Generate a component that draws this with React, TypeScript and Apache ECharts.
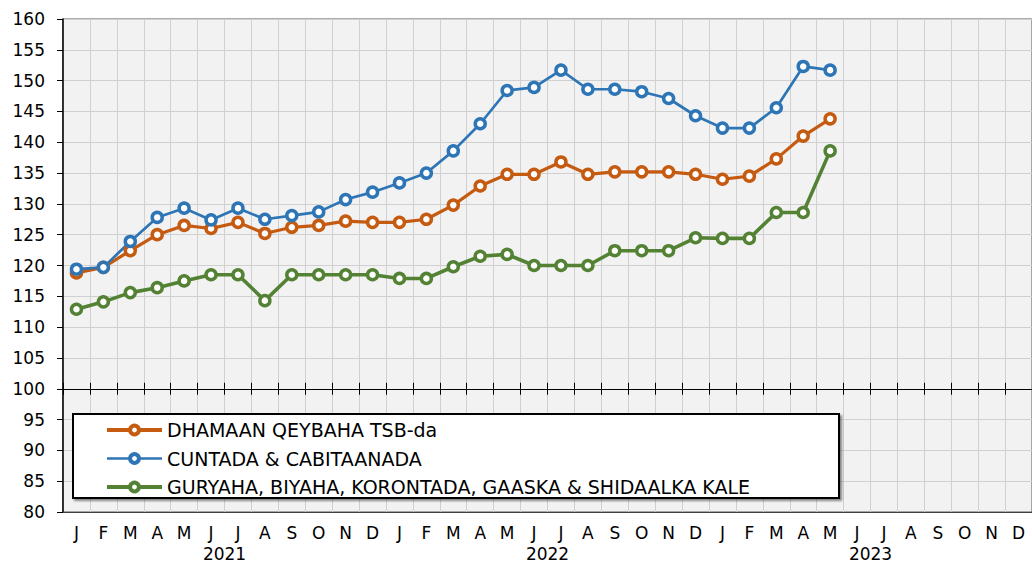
import React, { useEffect, useRef } from "react";
import * as echarts from "echarts";

const years = ["2021", "2022", "2023"];
const monthLetters = ["J", "F", "M", "A", "M", "J", "J", "A", "S", "O", "N", "D"];
const categories: string[] = [];
years.forEach((y) => monthLetters.forEach((m, i) => categories.push(`${y}-${i}-${m}`)));

const seriesNames = [
  "DHAMAAN QEYBAHA TSB-da",
  "CUNTADA & CABITAANADA",
  "GURYAHA, BIYAHA, KORONTADA, GAASKA & SHIDAALKA KALE",
];

const dhamaan = [
  118.8, 119.7, 122.4, 125.0, 126.5, 126.0, 127.0, 125.2, 126.2, 126.5, 127.2, 127.0,
  127.0, 127.5, 129.8, 132.9, 134.8, 134.8, 136.8, 134.8, 135.2, 135.2, 135.2, 134.8,
  134.0, 134.5, 137.3, 141.0, 143.8,
];
const cuntada = [
  119.4, 119.7, 123.9, 127.8, 129.3, 127.4, 129.3, 127.5, 128.1, 128.7, 130.7, 131.9,
  133.4, 135.0, 138.6, 143.0, 148.4, 148.9, 151.7, 148.6, 148.6, 148.2, 147.1, 144.3,
  142.3, 142.3, 145.6, 152.3, 151.7,
];
const guryaha = [
  112.9, 114.1, 115.6, 116.4, 117.5, 118.5, 118.5, 114.3, 118.5, 118.5, 118.5, 118.5,
  117.9, 117.9, 119.8, 121.5, 121.8, 120.0, 120.0, 120.0, 122.4, 122.4, 122.4, 124.5,
  124.4, 124.4, 128.6, 128.6, 138.6,
];

const colors = ["#C55A11", "#2E75B6", "#548235"];
const lineWidths = [3.2, 2.7, 3.6];
const legendLineWidths = [4, 2.5, 4];
const FONT = "DejaVu Sans";

export default function App() {
  const ref = useRef<HTMLDivElement>(null);
  useEffect(() => {
    if (!ref.current) return;
    const chart = echarts.init(ref.current, undefined, { renderer: "svg" });
    const gridTop = 19;
    const gridBottom = 50;
    const plotH = 562 - gridTop - gridBottom;
    const y100 = gridTop + ((160 - 100) / 80) * plotH;
    const offset100 = -(562 - gridBottom - y100);

    const mkSeries = (i: number, data: number[]) => ({
      name: seriesNames[i],
      type: "line",
      data,
      symbol: "circle",
      symbolSize: 10,
      lineStyle: { color: colors[i], width: lineWidths[i] },
      itemStyle: { color: "#ffffff", borderColor: colors[i], borderWidth: 3.5 },
      emphasis: { disabled: true },
      z: 5,
    });

    chart.setOption({
      animation: false,
      grid: {
        left: 63,
        right: 0,
        top: gridTop,
        bottom: gridBottom,
        show: true,
        backgroundColor: "#f2f2f2",
        borderColor: "#595959",
        borderWidth: 1,
      },
      xAxis: [
        {
          type: "category",
          data: categories,
          position: "bottom",
          boundaryGap: true,
          axisLine: { show: true, lineStyle: { color: "#404040", width: 1 } },
          axisTick: { show: false },
          axisLabel: {
            interval: 0,
            margin: 12,
            color: "#000",
            fontFamily: FONT,
            fontSize: 17,
            formatter: (v: string) => v.split("-")[2],
          },
          splitLine: { show: true, interval: 0, lineStyle: { color: "#d0d0d0", width: 1 } },
        },
        {
          type: "category",
          data: categories,
          position: "bottom",
          offset: offset100,
          boundaryGap: true,
          axisLine: { show: true, lineStyle: { color: "#000", width: 1 } },
          axisTick: { show: true, interval: 0, length: 6, lineStyle: { color: "#000" } },
          axisLabel: { show: false },
          splitLine: { show: false },
          z: 6,
        },
        {
          type: "category",
          data: categories,
          position: "bottom",
          offset: offset100,
          boundaryGap: true,
          axisLine: { show: false },
          axisTick: { show: true, inside: true, interval: 0, length: 6, lineStyle: { color: "#000" } },
          axisLabel: { show: false },
          splitLine: { show: false },
          z: 6,
        },
        {
          type: "category",
          data: years,
          position: "bottom",
          offset: 21,
          boundaryGap: true,
          axisLine: { show: false },
          axisTick: { show: false },
          axisLabel: { interval: 0, margin: 12, color: "#000", fontFamily: FONT, fontSize: 17 },
          splitLine: { show: false },
        },
      ],
      yAxis: {
        type: "value",
        min: 80,
        max: 160,
        interval: 5,
        axisLine: { show: true, lineStyle: { color: "#000", width: 1.5 } },
        axisTick: { show: true, length: 6, lineStyle: { color: "#000" } },
        axisLabel: { margin: 18, color: "#000", fontFamily: FONT, fontSize: 17 },
        splitLine: { show: true, lineStyle: { color: "#d0d0d0", width: 1 } },
      },
      legend: {
        orient: "vertical",
        left: 105,
        top: 420,
        padding: 0,
        itemGap: 8.5,
        itemWidth: 55,
        itemHeight: 11,
        selectedMode: false,
        textStyle: { color: "#000", fontFamily: FONT, fontSize: 19, lineHeight: 20 },
        itemStyle: { borderWidth: 4 },
        data: seriesNames.map((name, i) => ({
          name,
          lineStyle: { width: legendLineWidths[i], color: colors[i] },
          itemStyle: { color: "#ffffff", borderColor: colors[i], borderWidth: 4 },
        })),
        z: 10,
      },
      graphic: [
        {
          type: "rect",
          z: 8,
          shape: { x: 73, y: 414, width: 766, height: 84 },
          style: {
            fill: "#ffffff",
            stroke: "#000000",
            lineWidth: 2,
            shadowColor: "rgba(0,0,0,0.45)",
            shadowOffsetX: 2,
            shadowOffsetY: 2,
            shadowBlur: 2,
          },
        },
      ],
      series: [mkSeries(0, dhamaan), mkSeries(1, cuntada), mkSeries(2, guryaha)],
    });
    return () => chart.dispose();
  }, []);
  return (
    <div
      ref={ref}
      style={{ position: "fixed", left: 0, top: 0, width: 1032, height: 562, background: "#fff" }}
    />
  );
}
